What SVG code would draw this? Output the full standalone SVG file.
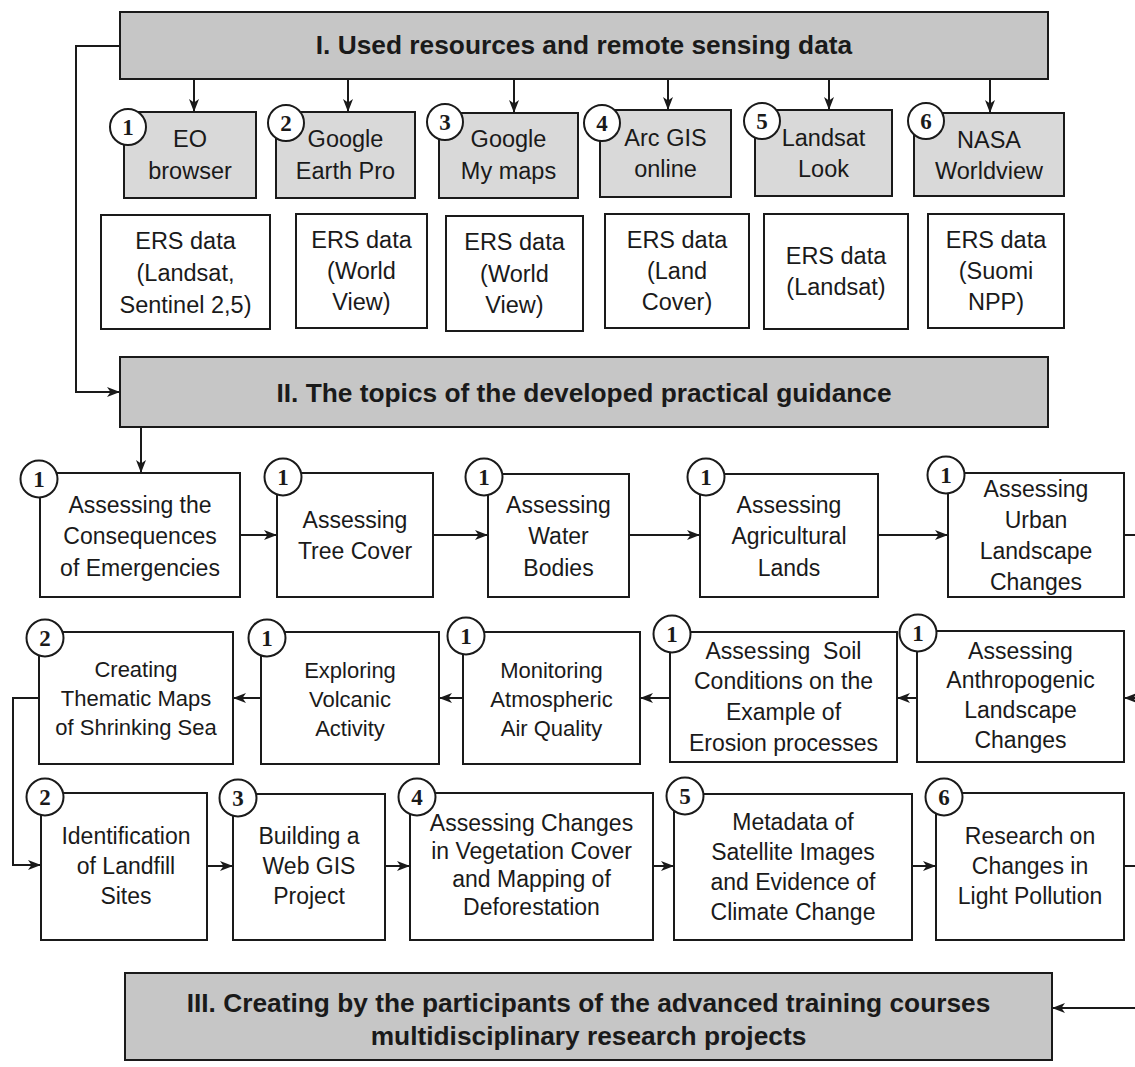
<svg xmlns="http://www.w3.org/2000/svg" width="1135" height="1067" viewBox="0 0 1135 1067">
<defs>
<marker id="ah" markerUnits="userSpaceOnUse" markerWidth="14" markerHeight="12" refX="13" refY="6" orient="auto">
<path d="M0,1 L13,6 L0,11 L3.5,6 z" fill="#1a1a1a"/>
</marker>
<style>
.hdr{fill:#c6c6c6;stroke:#1a1a1a;stroke-width:2}
.res{fill:#d9d9d9;stroke:#1a1a1a;stroke-width:2}
.box{fill:#fff;stroke:#1a1a1a;stroke-width:2}
.cir{fill:#fff;stroke:#1a1a1a;stroke-width:2}
.n{font-family:"Liberation Serif","Times New Roman",serif;font-weight:bold;font-size:23px;fill:#1a1a1a;text-anchor:middle}
.t{font-family:"Liberation Sans",Arial,sans-serif;font-size:23px;fill:#1a1a1a;text-anchor:middle}
.r{font-size:23.5px}
.s{font-size:22px}
.h{font-family:"Liberation Sans",Arial,sans-serif;font-weight:bold;font-size:26.3px;fill:#1a1a1a;text-anchor:middle}
.c{fill:none;stroke:#1a1a1a;stroke-width:2}
.a{marker-end:url(#ah)}
</style>
</defs>
<rect width="1135" height="1067" fill="#fff"/>

<g id="connectors">
<path class="c a" d="M194,79 V112"/>
<path class="c a" d="M348,79 V112"/>
<path class="c a" d="M514,79 V113"/>
<path class="c a" d="M668,79 V110"/>
<path class="c a" d="M829,79 V110"/>
<path class="c a" d="M990,79 V113"/>
<path class="c a" d="M120,46 H76 V392 H120"/>
<path class="c a" d="M141,427 V473"/>
<path class="c a" d="M240,535 H277"/>
<path class="c a" d="M433,535 H488"/>
<path class="c a" d="M629,535 H700"/>
<path class="c a" d="M878,535 H948"/>
<path class="c" d="M1124,535 H1135"/>
<path class="c a" d="M1135,698 H1124"/>
<path class="c a" d="M917,698 H897"/>
<path class="c a" d="M670,698 H640"/>
<path class="c a" d="M463,698 H439"/>
<path class="c a" d="M261,698 H233"/>
<path class="c a" d="M39,698 H13 V865 H41"/>
<path class="c a" d="M207,866 H233"/>
<path class="c a" d="M385,866 H410"/>
<path class="c a" d="M653,866 H674"/>
<path class="c a" d="M912,866 H936"/>
<path class="c" d="M1124,866 H1135"/>
<path class="c a" d="M1135,1008 H1052"/>
</g>

<g id="header-I">
<rect class="hdr" x="120" y="12" width="928" height="67"/>
<text class="h" x="584" y="54">I. Used resources and remote sensing data</text>
</g>

<g id="res-1">
<rect class="res" x="124" y="112" width="132" height="86"/>
<circle class="cir" cx="128" cy="127" r="18"/><text class="n" x="128" y="135">1</text>
<text class="t r" x="190" y="147">EO</text><text class="t r" x="190" y="179">browser</text>
</g>
<g id="res-2">
<rect class="res" x="276" y="112" width="139" height="86"/>
<circle class="cir" cx="286" cy="123" r="18"/><text class="n" x="286" y="131">2</text>
<text class="t r" x="345.5" y="147">Google</text><text class="t r" x="345.5" y="179">Earth Pro</text>
</g>
<g id="res-3">
<rect class="res" x="439" y="113" width="139" height="85"/>
<circle class="cir" cx="445" cy="122" r="18"/><text class="n" x="445" y="130">3</text>
<text class="t r" x="508.5" y="147">Google</text><text class="t r" x="508.5" y="179">My maps</text>
</g>
<g id="res-4">
<rect class="res" x="600" y="110" width="131" height="87"/>
<circle class="cir" cx="602" cy="123" r="18"/><text class="n" x="602" y="131">4</text>
<text class="t r" x="665.5" y="146">Arc GIS</text><text class="t r" x="665.5" y="177">online</text>
</g>
<g id="res-5">
<rect class="res" x="755" y="110" width="137" height="86"/>
<circle class="cir" cx="762" cy="121" r="18"/><text class="n" x="762" y="129">5</text>
<text class="t r" x="823.5" y="146">Landsat</text><text class="t r" x="823.5" y="177">Look</text>
</g>
<g id="res-6">
<rect class="res" x="914" y="113" width="150" height="83"/>
<circle class="cir" cx="926" cy="121" r="18"/><text class="n" x="926" y="129">6</text>
<text class="t r" x="989" y="148">NASA</text><text class="t r" x="989" y="179">Worldview</text>
</g>

<g id="ers-1">
<rect class="box" x="101" y="215" width="169" height="114"/>
<text class="t r" x="185.5" y="249">ERS data</text><text class="t r" x="185.5" y="281">(Landsat,</text><text class="t r" x="185.5" y="313">Sentinel 2,5)</text>
</g>
<g id="ers-2">
<rect class="box" x="296" y="214" width="131" height="114"/>
<text class="t r" x="361.5" y="248">ERS data</text><text class="t r" x="361.5" y="279">(World</text><text class="t r" x="361.5" y="310">View)</text>
</g>
<g id="ers-3">
<rect class="box" x="446" y="216" width="137" height="115"/>
<text class="t r" x="514.5" y="250">ERS data</text><text class="t r" x="514.5" y="282">(World</text><text class="t r" x="514.5" y="313">View)</text>
</g>
<g id="ers-4">
<rect class="box" x="605" y="214" width="144" height="114"/>
<text class="t r" x="677" y="248">ERS data</text><text class="t r" x="677" y="279">(Land</text><text class="t r" x="677" y="310">Cover)</text>
</g>
<g id="ers-5">
<rect class="box" x="764" y="214" width="144" height="115"/>
<text class="t r" x="836" y="264">ERS data</text><text class="t r" x="836" y="295">(Landsat)</text>
</g>
<g id="ers-6">
<rect class="box" x="928" y="214" width="136" height="114"/>
<text class="t r" x="996" y="248">ERS data</text><text class="t r" x="996" y="279">(Suomi</text><text class="t r" x="996" y="310">NPP)</text>
</g>

<g id="header-II">
<rect class="hdr" x="120" y="357" width="928" height="70"/>
<text class="h" x="584" y="402">II. The topics of the developed practical guidance</text>
</g>

<g id="topic-emergencies">
<rect class="box" x="40" y="473" width="200" height="124"/>
<circle class="cir" cx="39" cy="479" r="18.5"/><text class="n" x="39" y="487">1</text>
<text class="t" x="140" y="513">Assessing the</text><text class="t" x="140" y="544">Consequences</text><text class="t" x="140" y="576">of Emergencies</text>
</g>
<g id="topic-tree">
<rect class="box" x="277" y="473" width="156" height="124"/>
<circle class="cir" cx="283" cy="477" r="18.5"/><text class="n" x="283" y="485">1</text>
<text class="t" x="355" y="528">Assessing</text><text class="t" x="355" y="559">Tree Cover</text>
</g>
<g id="topic-water">
<rect class="box" x="488" y="474" width="141" height="123"/>
<circle class="cir" cx="484" cy="477" r="18.5"/><text class="n" x="484" y="485">1</text>
<text class="t" x="558.5" y="513">Assessing</text><text class="t" x="558.5" y="544">Water</text><text class="t" x="558.5" y="576">Bodies</text>
</g>
<g id="topic-agri">
<rect class="box" x="700" y="474" width="178" height="123"/>
<circle class="cir" cx="706" cy="477" r="18.5"/><text class="n" x="706" y="485">1</text>
<text class="t" x="789" y="513">Assessing</text><text class="t" x="789" y="544">Agricultural</text><text class="t" x="789" y="576">Lands</text>
</g>
<g id="topic-urban">
<rect class="box" x="948" y="473" width="176" height="124"/>
<circle class="cir" cx="946" cy="475" r="18.5"/><text class="n" x="946" y="483">1</text>
<text class="t" x="1036" y="497">Assessing</text><text class="t" x="1036" y="528">Urban</text><text class="t" x="1036" y="559">Landscape</text><text class="t" x="1036" y="590">Changes</text>
</g>

<g id="topic-sea">
<rect class="box" x="39" y="632" width="194" height="132"/>
<circle class="cir" cx="45" cy="638" r="18.5"/><text class="n" x="45" y="646">2</text>
<text class="t s" x="136" y="677">Creating</text><text class="t s" x="136" y="706">Thematic Maps</text><text class="t s" x="136" y="735">of Shrinking Sea</text>
</g>
<g id="topic-volcanic">
<rect class="box" x="261" y="632" width="178" height="132"/>
<circle class="cir" cx="267" cy="638" r="18.5"/><text class="n" x="267" y="646">1</text>
<text class="t s" x="350" y="678">Exploring</text><text class="t s" x="350" y="707">Volcanic</text><text class="t s" x="350" y="736">Activity</text>
</g>
<g id="topic-air">
<rect class="box" x="463" y="632" width="177" height="132"/>
<circle class="cir" cx="466" cy="636" r="18.5"/><text class="n" x="466" y="644">1</text>
<text class="t s" x="551.5" y="678">Monitoring</text><text class="t s" x="551.5" y="707">Atmospheric</text><text class="t s" x="551.5" y="736">Air Quality</text>
</g>
<g id="topic-soil">
<rect class="box" x="670" y="632" width="227" height="130"/>
<circle class="cir" cx="672" cy="634" r="18.5"/><text class="n" x="672" y="642">1</text>
<text class="t" x="783.5" y="659" style="white-space:pre">Assessing  Soil</text><text class="t" x="783.5" y="689">Conditions on the</text><text class="t" x="783.5" y="720">Example of</text><text class="t" x="783.5" y="751">Erosion processes</text>
</g>
<g id="topic-anthropogenic">
<rect class="box" x="917" y="631" width="207" height="131"/>
<circle class="cir" cx="918" cy="633" r="18.5"/><text class="n" x="918" y="641">1</text>
<text class="t" x="1020.5" y="659">Assessing</text><text class="t" x="1020.5" y="688">Anthropogenic</text><text class="t" x="1020.5" y="718">Landscape</text><text class="t" x="1020.5" y="748">Changes</text>
</g>

<g id="topic-landfill">
<rect class="box" x="41" y="793" width="166" height="147"/>
<circle class="cir" cx="45" cy="797" r="18.5"/><text class="n" x="45" y="805">2</text>
<text class="t" x="126" y="844">Identification</text><text class="t" x="126" y="874">of Landfill</text><text class="t" x="126" y="904">Sites</text>
</g>
<g id="topic-webgis">
<rect class="box" x="233" y="794" width="152" height="146"/>
<circle class="cir" cx="238" cy="798" r="18.5"/><text class="n" x="238" y="806">3</text>
<text class="t" x="309" y="844">Building a</text><text class="t" x="309" y="874">Web GIS</text><text class="t" x="309" y="904">Project</text>
</g>
<g id="topic-vegetation">
<rect class="box" x="410" y="793" width="243" height="147"/>
<circle class="cir" cx="417" cy="797" r="18.5"/><text class="n" x="417" y="805">4</text>
<text class="t" x="531.5" y="831">Assessing Changes</text><text class="t" x="531.5" y="859">in Vegetation Cover</text><text class="t" x="531.5" y="887">and Mapping of</text><text class="t" x="531.5" y="915">Deforestation</text>
</g>
<g id="topic-metadata">
<rect class="box" x="674" y="794" width="238" height="146"/>
<circle class="cir" cx="685" cy="796" r="18.5"/><text class="n" x="685" y="804">5</text>
<text class="t" x="793" y="830">Metadata of</text><text class="t" x="793" y="860">Satellite Images</text><text class="t" x="793" y="890">and Evidence of</text><text class="t" x="793" y="920">Climate Change</text>
</g>
<g id="topic-light">
<rect class="box" x="936" y="793" width="188" height="147"/>
<circle class="cir" cx="944" cy="797" r="18.5"/><text class="n" x="944" y="805">6</text>
<text class="t" x="1030" y="844">Research on</text><text class="t" x="1030" y="874">Changes in</text><text class="t" x="1030" y="904">Light Pollution</text>
</g>

<g id="header-III">
<rect class="hdr" x="125" y="973" width="927" height="87"/>
<text class="h" x="588.5" y="1012">III. Creating by the participants of the advanced training courses</text>
<text class="h" x="588.5" y="1045">multidisciplinary research projects</text>
</g>
</svg>
